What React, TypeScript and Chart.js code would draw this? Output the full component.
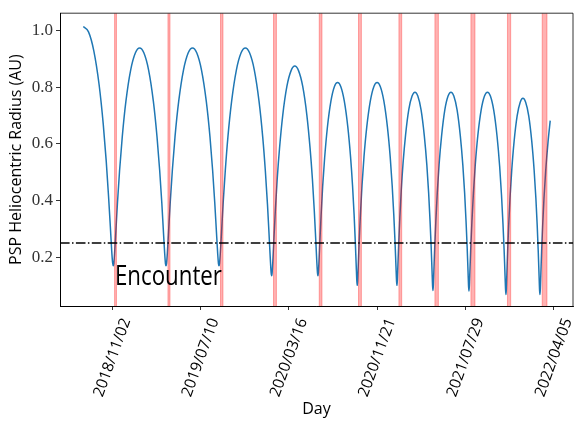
import React, { useEffect, useRef } from 'react';
import { Chart, registerables } from 'chart.js';

Chart.register(...registerables);

// Days since launch (2018/08/12) and heliocentric radius in AU
const ORBIT_DAYS = [
  0, 14.7, 29.7, 44.7, 56.4, 64.8, 71.4, 76.5, 80.6, 83.1, 84.8,
  86.3, 88.5, 92.3, 96.7, 102.7, 110.2, 120.6, 134.0, 147.5, 159.4,
  171.3, 184.8, 198.2, 208.6, 216.1, 222.1, 226.5, 230.3, 232.5, 234.0,
  235.5, 237.8, 241.5, 246.0, 252.0, 259.5, 270.0, 283.5, 297.0, 309.0,
  321.0, 334.5, 348.0, 358.5, 366.0, 372.0, 376.5, 380.3, 382.5, 384.0,
  385.5, 387.7, 391.5, 395.9, 401.9, 409.3, 419.8, 433.2, 446.6, 458.6,
  470.5, 483.9, 497.3, 507.8, 515.2, 521.2, 525.6, 529.4, 531.6, 533.1,
  534.4, 536.4, 539.7, 543.6, 548.8, 555.4, 564.5, 576.3, 588.1, 598.6,
  609.1, 620.9, 632.7, 641.8, 648.4, 653.6, 657.5, 660.8, 662.8, 664.1,
  665.2, 666.9, 669.7, 673.0, 677.4, 683.0, 690.8, 700.8, 710.8, 719.7,
  728.6, 738.6, 748.6, 756.4, 762.0, 766.4, 769.7, 772.5, 774.2, 775.3,
  776.4, 778.1, 780.9, 784.3, 788.8, 794.4, 802.3, 812.4, 822.5, 831.5,
  840.5, 850.6, 860.7, 868.6, 874.2, 878.7, 882.1, 884.9, 886.6, 887.7,
  888.7, 890.2, 892.8, 895.9, 899.9, 905.0, 912.2, 921.3, 930.5, 938.7,
  946.8, 956.0, 965.1, 972.3, 977.4, 981.4, 984.5, 987.1, 988.6, 989.6,
  990.6, 992.1, 994.7, 997.8, 1001.8, 1006.9, 1014.1, 1023.2, 1032.4, 1040.6,
  1048.7, 1057.9, 1067.0, 1074.2, 1079.3, 1083.3, 1086.4, 1089.0, 1090.5, 1091.5,
  1092.5, 1094.1, 1096.7, 1099.9, 1104.1, 1109.3, 1116.6, 1126.1, 1135.5, 1143.9,
  1152.2, 1161.6, 1171.1, 1178.4, 1183.6, 1187.8, 1191.0, 1193.6, 1195.2, 1196.2,
  1197.2, 1198.6, 1201.0, 1203.9, 1207.7, 1212.6, 1219.3, 1227.9, 1236.6, 1244.3,
  1252.0, 1260.7, 1269.3, 1276.0, 1280.9, 1284.7, 1287.6, 1290.0, 1291.4, 1292.4,
  1293.4, 1294.8, 1297.2, 1300.1, 1303.9, 1308.8, 1315.5, 1321.5,
];

const ORBIT_RADIUS_AU = [
  1.015, 0.996, 0.929, 0.809, 0.670, 0.540, 0.415, 0.307, 0.217, 0.178, 0.169,
  0.177, 0.213, 0.295, 0.393, 0.507, 0.625, 0.751, 0.861, 0.922, 0.939,
  0.922, 0.861, 0.751, 0.625, 0.507, 0.393, 0.295, 0.213, 0.177, 0.169,
  0.177, 0.213, 0.295, 0.393, 0.507, 0.625, 0.751, 0.861, 0.922, 0.939,
  0.922, 0.861, 0.751, 0.625, 0.507, 0.393, 0.295, 0.213, 0.177, 0.169,
  0.177, 0.213, 0.295, 0.393, 0.507, 0.625, 0.751, 0.861, 0.922, 0.939,
  0.922, 0.862, 0.751, 0.624, 0.505, 0.387, 0.283, 0.190, 0.145, 0.134,
  0.144, 0.185, 0.271, 0.367, 0.476, 0.585, 0.702, 0.804, 0.859, 0.875,
  0.859, 0.804, 0.702, 0.585, 0.476, 0.367, 0.271, 0.185, 0.144, 0.134,
  0.143, 0.181, 0.260, 0.348, 0.449, 0.550, 0.658, 0.751, 0.803, 0.817,
  0.803, 0.752, 0.660, 0.554, 0.453, 0.351, 0.258, 0.167, 0.115, 0.100,
  0.115, 0.168, 0.258, 0.351, 0.453, 0.554, 0.660, 0.752, 0.803, 0.817,
  0.803, 0.752, 0.660, 0.554, 0.453, 0.351, 0.258, 0.168, 0.115, 0.100,
  0.115, 0.165, 0.251, 0.339, 0.436, 0.532, 0.633, 0.722, 0.769, 0.783,
  0.769, 0.720, 0.629, 0.526, 0.427, 0.327, 0.237, 0.148, 0.097, 0.082,
  0.097, 0.148, 0.237, 0.327, 0.427, 0.526, 0.629, 0.720, 0.769, 0.783,
  0.769, 0.720, 0.629, 0.525, 0.426, 0.326, 0.235, 0.146, 0.095, 0.080,
  0.095, 0.146, 0.235, 0.326, 0.426, 0.525, 0.629, 0.720, 0.769, 0.783,
  0.769, 0.719, 0.626, 0.521, 0.420, 0.318, 0.226, 0.136, 0.084, 0.068,
  0.083, 0.133, 0.221, 0.311, 0.409, 0.507, 0.609, 0.699, 0.747, 0.761,
  0.747, 0.699, 0.609, 0.507, 0.409, 0.311, 0.221, 0.133, 0.083, 0.068,
  0.083, 0.133, 0.221, 0.311, 0.409, 0.507, 0.609, 0.682,
];

const ENCOUNTER_START_DAYS = [88.5, 239.5, 388.3, 538.3, 667.7, 778.9, 893.2, 995.1, 1097.0, 1200.5, 1298.8];
const ENCOUNTER_END_DAYS = [93.8, 245.4, 395.4, 546.6, 675.6, 787.1, 901.2, 1005.0, 1108.6, 1209.6, 1312.4];

const X_TICK_DAYS = [82, 332, 582, 832, 1082, 1332];
const X_TICK_LABELS = ['2018/11/02', '2019/07/10', '2020/03/16', '2020/11/21', '2021/07/29', '2022/04/05'];
const Y_TICK_VALUES = [0.2, 0.4, 0.6, 0.8, 1.0];
const Y_TICK_LABELS = ['0.2', '0.4', '0.6', '0.8', '1.0'];

const THRESHOLD_AU = 0.25;
const ENCOUNTER_TEXT = 'Encounter';
const ENCOUNTER_TEXT_DAY = 89.5;
const ENCOUNTER_TEXT_AU = 0.1;

const X_MIN = -66;
const X_MAX = 1386;
const Y_MIN = 0.027;
const Y_MAX = 1.062;

const SANS = '"Open Sans", "DejaVu Sans", sans-serif';

const decorPlugin = {
  id: 'pspDecor',
  afterDatasetsDraw(chart: any) {
    const { ctx, chartArea } = chart;
    const xs = chart.scales.x;
    const ys = chart.scales.y;
    ctx.save();
    ctx.beginPath();
    ctx.rect(chartArea.left, chartArea.top, chartArea.right - chartArea.left, chartArea.bottom - chartArea.top);
    ctx.clip();
    // encounter bands
    ENCOUNTER_START_DAYS.forEach((s, i) => {
      const x0 = xs.getPixelForValue(s);
      const x1 = xs.getPixelForValue(ENCOUNTER_END_DAYS[i]);
      ctx.fillStyle = 'rgba(255,0,0,0.3)';
      ctx.fillRect(x0, chartArea.top, x1 - x0, chartArea.bottom - chartArea.top);
      ctx.strokeStyle = 'rgba(255,0,0,0.3)';
      ctx.lineWidth = 1;
      ctx.beginPath();
      ctx.moveTo(x0, chartArea.top);
      ctx.lineTo(x0, chartArea.bottom);
      ctx.moveTo(x1, chartArea.top);
      ctx.lineTo(x1, chartArea.bottom);
      ctx.stroke();
    });
    // threshold line
    const yt = ys.getPixelForValue(THRESHOLD_AU);
    ctx.strokeStyle = '#000';
    ctx.lineWidth = 1.5;
    ctx.setLineDash([9.6, 2.4, 1.5, 2.4]);
    ctx.beginPath();
    ctx.moveTo(chartArea.left, yt);
    ctx.lineTo(chartArea.right, yt);
    ctx.stroke();
    ctx.setLineDash([]);
    ctx.restore();

    // Encounter label
    ctx.save();
    ctx.font = `27px ${SANS}`;
    const w = ctx.measureText(ENCOUNTER_TEXT).width;
    const sx = 107 / w;
    ctx.translate(xs.getPixelForValue(ENCOUNTER_TEXT_DAY), ys.getPixelForValue(ENCOUNTER_TEXT_AU));
    ctx.scale(sx, 1);
    ctx.fillStyle = '#000';
    ctx.textAlign = 'left';
    ctx.textBaseline = 'alphabetic';
    ctx.fillText(ENCOUNTER_TEXT, 0, 0);
    ctx.restore();
  },
  afterDraw(chart: any) {
    const { ctx, chartArea } = chart;
    const xs = chart.scales.x;
    // top/right frame
    ctx.save();
    ctx.strokeStyle = '#000';
    ctx.lineWidth = 0.8;
    ctx.beginPath();
    ctx.moveTo(chartArea.left, chartArea.top);
    ctx.lineTo(chartArea.right, chartArea.top);
    ctx.lineTo(chartArea.right, chartArea.bottom);
    ctx.stroke();
    ctx.restore();
    // rotated x tick labels, centred under ticks
    const size = 15.5;
    const ang = (70 * Math.PI) / 180;
    X_TICK_DAYS.forEach((d, i) => {
      const label = X_TICK_LABELS[i];
      ctx.save();
      ctx.font = `${size}px ${SANS}`;
      const w = ctx.measureText(label).width;
      const h = size * 0.75;
      const bh = w * Math.sin(ang) + h * Math.cos(ang);
      const x = xs.getPixelForValue(d);
      const cy = chartArea.bottom + 11 + bh / 2;
      ctx.translate(x, cy);
      ctx.rotate(-ang);
      ctx.fillStyle = '#000';
      ctx.textAlign = 'center';
      ctx.textBaseline = 'middle';
      ctx.fillText(label, 0, 0);
      ctx.restore();
    });
  },
};

export default function App() {
  const canvasRef = useRef<HTMLCanvasElement>(null);

  useEffect(() => {
    const canvas = canvasRef.current;
    if (!canvas) return;
    const chart = new Chart(canvas, {
      type: 'line',
      data: {
        datasets: [
          {
            label: 'PSP radius',
            data: ORBIT_DAYS.map((d, i) => ({ x: d, y: ORBIT_RADIUS_AU[i] })),
            borderColor: '#1f77b4',
            borderWidth: 1.5,
            pointRadius: 0,
            fill: false,
            cubicInterpolationMode: 'monotone',
          },
        ],
      },
      options: {
        animation: false,
        responsive: false,
        devicePixelRatio: 1,
        layout: { padding: { left: 0, top: 7, right: 1, bottom: 0 } },
        plugins: { legend: { display: false }, tooltip: { enabled: false } },
        scales: {
          x: {
            type: 'linear',
            min: X_MIN,
            max: X_MAX,
            afterBuildTicks: (scale: any) => {
              scale.ticks = X_TICK_DAYS.map((v) => ({ value: v }));
            },
            afterFit: (scale: any) => {
              scale.height = 115;
            },
            ticks: { display: false },
            grid: { drawOnChartArea: false, drawTicks: true, tickLength: 4, color: '#000', lineWidth: 0.8 },
            border: { display: true, color: '#000', width: 1 },
            title: {
              display: true,
              text: 'Day',
              color: '#000',
              font: { family: SANS, size: 16 },
              padding: { top: 0, bottom: 2 },
            },
          },
          y: {
            type: 'linear',
            min: Y_MIN,
            max: Y_MAX,
            afterBuildTicks: (scale: any) => {
              scale.ticks = Y_TICK_VALUES.map((v) => ({ value: v }));
            },
            afterFit: (scale: any) => {
              scale.width = 60;
            },
            ticks: {
              padding: 3,
              color: '#333',
              font: { family: 'Liberation Serif', size: 17 },
              callback: (_v: any, i: number) => Y_TICK_LABELS[i],
            },
            grid: { drawOnChartArea: false, drawTicks: true, tickLength: 4, color: '#000', lineWidth: 0.8 },
            border: { display: true, color: '#000', width: 1 },
            title: {
              display: true,
              text: 'PSP Heliocentric Radius (AU)',
              color: '#000',
              font: { family: SANS, size: 16 },
              padding: { top: 7, bottom: 0 },
            },
          },
        },
      },
      plugins: [decorPlugin],
    } as any);
    return () => chart.destroy();
  }, []);

  return (
    <div style={{ position: 'absolute', left: 0, top: 0, width: 574, height: 421, background: '#fff' }}>
      <canvas ref={canvasRef} width={574} height={421} style={{ display: 'block' }} />
    </div>
  );
}
